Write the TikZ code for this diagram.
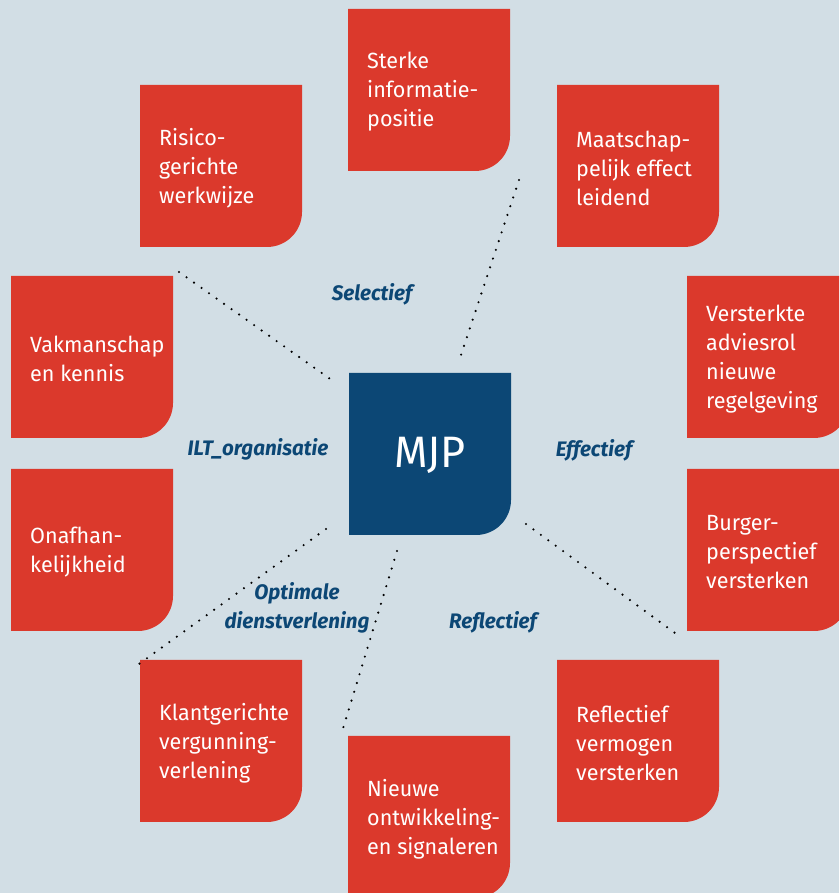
\documentclass[tikz,border=0pt]{standalone}
\usepackage{fontspec}
\setmainfont[FakeStretch=0.98]{Fira Sans}
\definecolor{bgblue}{RGB}{210,222,229}
\definecolor{tilered}{RGB}{219,57,44}
\definecolor{navy}{RGB}{12,71,117}
\tikzset{
  tiletext/.style={anchor=west,align=left,inner sep=0pt,text=white,font=\fontsize{22}{29}\selectfont},
  centertext/.style={anchor=center,align=center,inner sep=0pt,text=white,font=\fontsize{44}{48}\selectfont},
  lbl/.style={anchor=center,align=center,inner sep=0pt,text=navy,font=\fontsize{21}{29}\selectfont\bfseries\itshape},
  dots/.style={line width=2.4pt,line cap=round,dash pattern=on 0pt off 9.2pt,black}
}
\newcommand\tile[5]{%
  \fill[#5] (#2,{893-#3}) -- ++(162,0) -- ++(0,-127) arc[start angle=0,end angle=-90,radius=35pt] -- ++(-127,0) -- cycle;
  \node[tiletext] (#1) at ({#2+19},{893-#3-83}) {#4};}
\begin{document}
\begin{tikzpicture}[x=1pt,y=1pt]
\useasboundingbox (0,0) rectangle (839,893);
\clip (0,0) rectangle (839,893);
\fill[bgblue] (0,0) rectangle (839,893);
% tiles
\tile{sterke}{348}{9}{Sterke\\informatie-\\positie}{tilered}
\tile{risico}{140}{85}{Risico-\\gerichte\\werkwijze}{tilered}
\tile{maat}{557}{85}{Maatschap-\\pelijk effect\\leidend}{tilered}
\tile{vak}{11}{276}{Vakmanschap\\en kennis}{tilered}
\tile{onaf}{11}{469}{Onafhan-\\kelijkheid}{tilered}
\tile{advies}{687}{276}{Versterkte\\adviesrol\\nieuwe\\regelgeving}{tilered}
\tile{burger}{687}{469}{Burger-\\perspectief\\versterken}{tilered}
\tile{klant}{140}{660}{Klantgerichte\\vergunning-\\verlening}{tilered}
\tile{nieuw}{348}{736}{Nieuwe\\ontwikkeling-\\en signaleren}{tilered}
\tile{reflect}{557}{660}{Reflectief\\vermogen\\versterken}{tilered}
% centre
\fill[navy] (349,{893-373}) -- ++(162,0) -- ++(0,-127) arc[start angle=0,end angle=-90,radius=35pt] -- ++(-127,0) -- cycle;
\node[centertext] (mjp) at (430,{893-455}) {MJP};
% labels
\node[lbl] (sel) at (372,{893-294}) {Selectief};
\node[lbl] (ilt) at (258,{893-449}) {ILT\_organisatie};
\node[lbl] (eff) at (594,{893-450}) {Effectief};
\node[lbl] (opt) at (297,{893-608}) {Optimale\\dienstverlening};
\node[lbl] (refl) at (493,{893-622}) {Reflectief};
% connector end points
\coordinate (a1) at (179,{893-272});
\coordinate (a2) at (333,{893-381});
\coordinate (b1) at (519,{893-180});
\coordinate (b2) at (461,{893-355});
\coordinate (c1) at (326,{893-529});
\coordinate (c2) at (139,{893-664});
\coordinate (d1) at (397,{893-551});
\coordinate (d2) at (341,{893-735});
\coordinate (e1) at (526,{893-524});
\coordinate (e2) at (675,{893-633});
\draw[dots] (a1) -- (a2);
\draw[dots] (b1) -- (b2);
\draw[dots] (c1) -- (c2);
\draw[dots] (d1) -- (d2);
\draw[dots] (e1) -- (e2);
\end{tikzpicture}
\end{document}
